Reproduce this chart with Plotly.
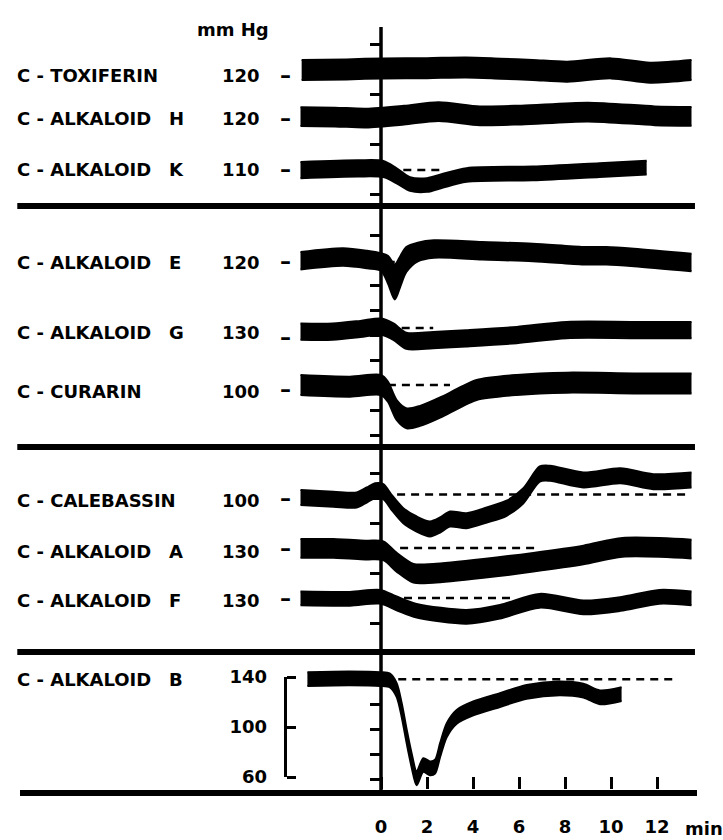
import plotly.graph_objects as go

# ---------------- data (mm Hg vs minutes) ----------------
TIME_TICKS = [0, 2, 4, 6, 8, 10, 12]

TOX_T = [-3.45, -1.5, 0.1, 2.0, 3.7, 5.2, 6.6, 8.1, 10.0, 11.7, 13.5]
TOX_P = [120, 120.5, 121.3, 121.5, 122, 121, 120, 118.7, 121.3, 117.9, 120]
TOX_PULSE = 16

H_T = [-3.5, -2.0, -0.65, 1.0, 2.5, 4.3, 6.1, 9.0, 11.9, 13.5]
H_P = [120.3, 120, 119.2, 121.5, 124.3, 121, 121.6, 124, 121, 120.5]
H_PULSE = 15

K_T = [-3.5, -1.0, 0.1, 0.68, 1.26, 2.0, 2.7, 3.72, 6.6, 9.5, 11.55]
K_P = [110, 111.3, 110.8, 105.4, 98.8, 98, 101.5, 106, 107.3, 110, 112]
K_PULSE = [13, 13, 13, 12, 11, 11, 11, 11, 11, 11, 11]

E_T = [-3.5, -1.65, -0.6, 0.0, 0.3, 0.6, 0.85, 1.1, 1.6, 2.3, 4.4, 6.6, 8.8, 9.8, 11.0, 13.5]
E_P = [121, 124, 122, 120, 114, 104, 113, 122, 128, 130.4, 129, 127.6, 125, 125, 123.6, 119.6]
E_PULSE = [14, 14, 14, 14, 22, 28, 24, 20, 15, 14, 14, 14, 14, 14, 14, 14]

G_T = [-3.5, -2.1, -0.9, 0.0, 0.54, 1.1, 2.27, 3.7, 5.9, 8.07, 11.0, 13.5]
G_P = [127.1, 127.1, 129.2, 131.1, 127.1, 119.8, 120.4, 121.8, 124.4, 128.4, 128.4, 128.4]
G_PULSE = 13

CUR_T = [-3.5, -1.35, 0.0, 0.3, 0.68, 1.12, 1.7, 2.57, 3.43, 4.16, 5.9, 8.07, 11.0, 13.5]
CUR_P = [100, 98.7, 100, 94.7, 80, 73.3, 75.3, 82, 90, 96, 100, 101.9, 101.3, 101.3]
CUR_PULSE = 16

CAL_T = [-3.5, -2.07, -1.06, -0.62, -0.26, 0.1, 0.46, 0.97, 1.55, 2.13, 2.57, 3.0, 3.72,
         4.6, 5.46, 6.19, 6.9, 7.35, 8.8, 10.4, 11.84, 13.5]
CAL_P = [97.6, 96.3, 95.6, 99.6, 103, 102.3, 93.7, 83, 76.4, 72.4, 75.6, 80.4, 79,
         83.6, 89, 99, 116.4, 117, 111.6, 115, 110.3, 111.6]
CAL_PULSE = 12

A_T = [-3.5, -2.07, -0.62, 0.1, 0.68, 1.41, 2.27, 4.45, 6.62, 8.8, 10.5, 13.5]
A_P = [129.7, 129.7, 128.4, 127.8, 118.6, 109.8, 109.8, 113.7, 118.6, 124.4, 130.5, 129.2]
A_PULSE = 15

F_T = [-3.5, -1.35, -0.04, 0.68, 1.55, 3.72, 5.17, 6.9, 8.8, 10.4, 12.1, 13.5]
F_P = [129.7, 129.4, 131, 125.7, 119.8, 115, 119, 127.8, 122.5, 125.2, 131, 129.7]
F_PULSE = 11

B_T = [-3.2, -1.35, -0.04, 0.39, 0.68, 0.9, 1.12, 1.33, 1.55, 1.84, 2.13, 2.35, 2.57,
       2.86, 3.29, 4.01, 5.17, 6.33, 7.78, 8.8, 9.52, 10.46]
B_P = [140.2, 140.8, 140.2, 139, 131.4, 115.4, 94, 75.4, 60.8, 71.4, 68.8, 70.1, 83.4,
       99.4, 110, 116.7, 123.4, 130, 132.8, 130.9, 125.6, 128.2]
B_PULSE = 11
B_SCALE_TICKS = [60, 100, 140]

NAMES = ["C - TOXIFERIN", "C - ALKALOID", "C - ALKALOID", "C - ALKALOID", "C - ALKALOID",
         "C - CURARIN", "C - CALEBASSIN", "C - ALKALOID", "C - ALKALOID", "C - ALKALOID"]
SUFFIX = ["", "H", "K", "E", "G", "", "", "A", "F", "B"]
BASELINE = [120, 120, 110, 120, 130, 100, 100, 130, 130, 140]
# (start, end) of dashed control level, minutes
DASHED = [None, None, (0.97, 2.7), (0.25, 0.8), (0.9, 2.27), (0.3, 3.0),
          (0.7, 13.3), (0.83, 6.9), (1.0, 5.7), (0.75, 12.8)]

SERIES = [(TOX_T, TOX_P, TOX_PULSE), (H_T, H_P, H_PULSE), (K_T, K_P, K_PULSE),
          (E_T, E_P, E_PULSE), (G_T, G_P, G_PULSE), (CUR_T, CUR_P, CUR_PULSE),
          (CAL_T, CAL_P, CAL_PULSE), (A_T, A_P, A_PULSE), (F_T, F_P, F_PULSE),
          (B_T, B_P, B_PULSE)]

# ---------------- layout geometry (pixels) ----------------
W, H = 723, 840
X0_PX, PX_PER_MIN = 381, 23.0
XDOM = (20, 697)
PX_PER_MMHG = 1.25
BASE_PX = [70, 117, 170, 262, 328, 385, 494.5, 548, 598, 679.3]
LABEL_PX = [75, 119, 170, 262, 333, 391, 500, 551, 600, 679]
DASH_PX = [75.5, 119, 170, 261, 337, 389, 498, 548, 598, None]
SEPARATORS_PX = [206, 447, 652]
AXIS_BOTTOM_PX = 790
SECTIONS = [(27, 200, 194), (215, 440, 435), (455, 640, 623)]  # top, bottom, lowest tick px

FONT = dict(family="DejaVu Sans", size=18, color="black", weight="bold")


def py(px):
    return 1 - px / H


def pxx(px):
    return px / W


xr = [(XDOM[0] - X0_PX) / PX_PER_MIN, (XDOM[1] - X0_PX) / PX_PER_MIN]
B_AXIS = "y14"

fig = go.Figure()
layout = dict(
    width=W, height=H, margin=dict(l=0, r=0, t=0, b=0, pad=0, autoexpand=False),
    paper_bgcolor="white", plot_bgcolor="rgba(0,0,0,0)", showlegend=False,
    xaxis=dict(domain=[pxx(XDOM[0]), pxx(XDOM[1])], range=xr, anchor=B_AXIS,
               showline=True, linewidth=6, linecolor="black", automargin=False,
               ticks="", tickvals=TIME_TICKS, ticktext=[str(v) for v in TIME_TICKS],
               tickfont=FONT, ticklabelstandoff=15, showgrid=False, zeroline=False),
    # tick stubs of the time axis, pointing up from the bottom line:
    # an x axis on top of a strip whose upper edge is the bottom line
    xaxis2=dict(domain=[pxx(XDOM[0]), pxx(XDOM[1])], anchor="y16", side="top",
                range=xr, showline=False, ticks="outside", ticklen=12, tickwidth=3,
                tickcolor="black", tickvals=TIME_TICKS, showticklabels=False,
                showgrid=False, zeroline=False, automargin=False),
    yaxis16=dict(domain=[py(835), py(AXIS_BOTTOM_PX)], anchor="x2", range=[0, 1],
                 visible=False, automargin=False),
)
fig.add_trace(go.Scatter(x=[None], y=[None], xaxis="x2", yaxis="y16", hoverinfo="skip"))

# section graduation axes (y, y2, y3)
for k, (top, bot, low) in enumerate(SECTIONS):
    key = "yaxis" if k == 0 else f"yaxis{k+1}"
    layout[key] = dict(domain=[py(bot), py(top)], range=[0, (bot - top) / PX_PER_MMHG],
                       tick0=(bot - low) / PX_PER_MMHG, dtick=20, ticks="outside",
                       ticklen=11, tickwidth=3, tickcolor="black", showticklabels=False,
                       showline=False, showgrid=False, zeroline=False, automargin=False,
                       anchor="free", position=pxx(X0_PX))
    fig.add_trace(go.Scatter(x=[None], y=[None], xaxis="x",
                             yaxis="y" if k == 0 else f"y{k+1}", hoverinfo="skip"))

# bracket scale for C-ALKALOID B: line + stubs (y4) and its labels (y15)
BRACKET_DOM = [py(777), py(677)]
layout["yaxis4"] = dict(domain=BRACKET_DOM, range=[60, 140], anchor="free", side="right",
                        position=pxx(285), showline=True, linewidth=3, linecolor="black",
                        ticks="outside", ticklen=9, tickwidth=3, tickcolor="black",
                        tickvals=B_SCALE_TICKS, showticklabels=False, automargin=False,
                        showgrid=False, zeroline=False)
fig.add_trace(go.Scatter(x=[None], y=[None], xaxis="x", yaxis="y4", hoverinfo="skip"))
layout["yaxis15"] = dict(domain=BRACKET_DOM, range=[60, 140], anchor="free", side="left",
                         position=pxx(285), showline=False, ticks="",
                         tickvals=B_SCALE_TICKS, ticktext=[str(v) for v in B_SCALE_TICKS],
                         tickfont=FONT, ticklabelstandoff=18, automargin=False,
                         showgrid=False, zeroline=False)
fig.add_trace(go.Scatter(x=[None], y=[None], xaxis="x", yaxis="y15", hoverinfo="skip"))

# recordings
for i, (t, p, pulse) in enumerate(SERIES):
    n = 5 + i
    base = BASELINE[i]
    if i == 9:
        hi = 155
        lo = base - (AXIS_BOTTOM_PX - BASE_PX[i]) / PX_PER_MMHG
    else:
        lo, hi = base - 60, base + 50
    top_px = BASE_PX[i] - (hi - base) * PX_PER_MMHG
    bot_px = BASE_PX[i] + (base - lo) * PX_PER_MMHG
    ax = dict(domain=[py(bot_px), py(top_px)], range=[lo, hi], showgrid=False,
              zeroline=False, showticklabels=False, anchor="free", position=pxx(X0_PX),
              automargin=False)
    if i == 9:
        ax.update(ticks="outside", ticklen=11, tickwidth=3, tickcolor="black",
                  tickvals=[60, 80, 100, 120], showline=False)
    else:
        ax.update(visible=False)
    layout[f"yaxis{n}"] = ax
    yref = f"y{n}"
    pl = pulse if isinstance(pulse, list) else [pulse] * len(t)
    low = [v - w / 2 for v, w in zip(p, pl)]
    upp = [v + w / 2 for v, w in zip(p, pl)]
    if DASHED[i]:
        fig.add_trace(go.Scatter(x=list(DASHED[i]), y=[base, base], mode="lines",
                                 xaxis="x", yaxis=yref, hoverinfo="skip",
                                 line=dict(color="black", width=2.5, dash="8px,6px")))
    fig.add_trace(go.Scatter(x=t, y=low, mode="lines", xaxis="x", yaxis=yref,
                             hoverinfo="skip",
                             line=dict(color="black", width=2, shape="spline", smoothing=0.8)))
    fig.add_trace(go.Scatter(x=t, y=upp, mode="lines", xaxis="x", yaxis=yref,
                             hoverinfo="skip", fill="tonexty", fillcolor="black",
                             line=dict(color="black", width=2, shape="spline", smoothing=0.8)))

fig.update_layout(**layout)

shapes = [dict(type="line", xref="x", yref="paper", x0=0, x1=0,
               y0=py(AXIS_BOTTOM_PX), y1=py(27), line=dict(color="black", width=3.5),
               layer="below")]
for s in SEPARATORS_PX:
    shapes.append(dict(type="line", xref="x domain", yref="paper", x0=-0.004, x1=0.997,
                       y0=py(s), y1=py(s), line=dict(color="black", width=6)))
fig.update_layout(shapes=shapes)

DASH_FONT = dict(FONT, size=22)
ann = [dict(text="mm Hg", x=pxx(233), y=py(30), xref="paper", yref="paper",
            showarrow=False, font=FONT, xanchor="center", yanchor="middle"),
       dict(text="min", x=pxx(704), y=py(828), xref="paper", yref="paper",
            showarrow=False, font=FONT, xanchor="center", yanchor="middle")]
for i in range(len(NAMES)):
    ann.append(dict(text=NAMES[i], x=pxx(15), y=py(LABEL_PX[i]), xref="paper", yref="paper",
                    showarrow=False, font=FONT, xanchor="left", yanchor="middle"))
    if SUFFIX[i]:
        ann.append(dict(text=SUFFIX[i], x=pxx(167), y=py(LABEL_PX[i]), xref="paper",
                        yref="paper", showarrow=False, font=FONT, xanchor="left",
                        yanchor="middle"))
    if DASH_PX[i] is not None:
        ann.append(dict(text=str(BASELINE[i]), x=pxx(262), y=py(LABEL_PX[i]), xref="paper",
                        yref="paper", showarrow=False, font=FONT, xanchor="right",
                        yanchor="middle"))
        ann.append(dict(text="–", x=pxx(285), y=py(DASH_PX[i]), xref="paper", yref="paper",
                        showarrow=False, font=DASH_FONT, xanchor="center", yanchor="middle"))
fig.update_layout(annotations=ann)

fig.write_html("out.html")
